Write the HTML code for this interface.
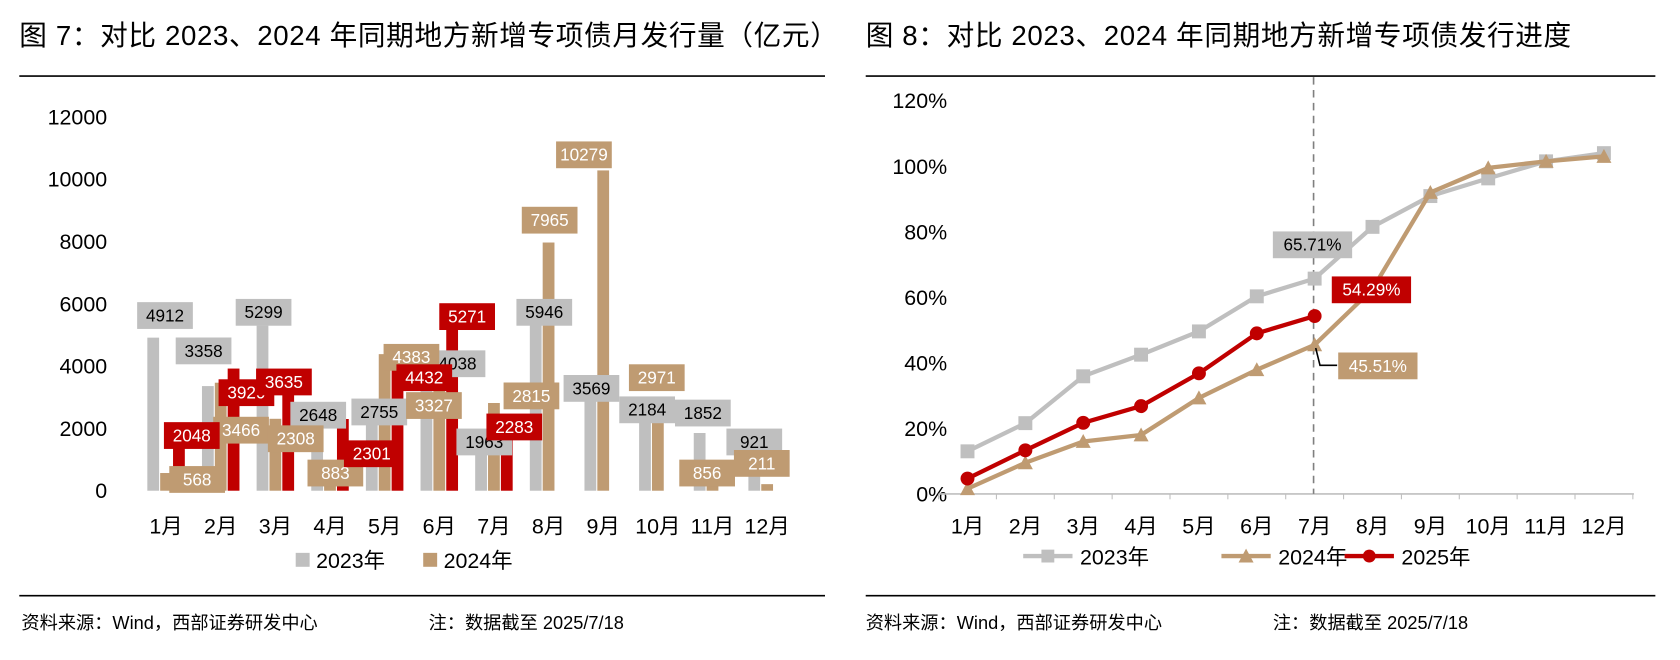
<!DOCTYPE html>
<html><head><meta charset="utf-8"><style>
body{margin:0;background:#fff;width:1680px;height:655px;overflow:hidden;font-family:"Liberation Sans","Noto Sans CJK SC",sans-serif;}
svg text{font-family:"Liberation Sans","Noto Sans CJK SC",sans-serif;}
</style></head><body>
<svg id="s" width="1680" height="655" viewBox="0 0 1568 611.33" xmlns="http://www.w3.org/2000/svg">
<text x="18" y="42" font-size="25.8" letter-spacing="0.6" fill="#000">图 7：对比 2023、2024 年同期地方新增专项债月发行量（亿元）</text>
<text x="808" y="42" font-size="25.8" letter-spacing="0.6" fill="#000">图 8：对比 2023、2024 年同期地方新增专项债发行进度</text>
<line x1="18" y1="71" x2="770" y2="71" stroke="#000" stroke-width="1.5"/>
<line x1="808" y1="71" x2="1545" y2="71" stroke="#000" stroke-width="1.5"/>
<line x1="18" y1="556" x2="770" y2="556" stroke="#000" stroke-width="1.5"/>
<line x1="808" y1="556" x2="1545" y2="556" stroke="#000" stroke-width="1.5"/>
<text x="20" y="587" font-size="17">资料来源：Wind，西部证券研发中心</text>
<text x="400" y="587" font-size="17">注：数据截至 2025/7/18</text>
<text x="808" y="587" font-size="17">资料来源：Wind，西部证券研发中心</text>
<text x="1188" y="587" font-size="17">注：数据截至 2025/7/18</text>
<g id="left"></g><g id="right"></g>
</svg>
<script>
const NS="http://www.w3.org/2000/svg";
function mk(p,t,a){const e=document.createElementNS(NS,t);for(const k in a)e.setAttribute(k,a[k]);p.appendChild(e);return e;}
const months=["1月","2月","3月","4月","5月","6月","7月","8月","9月","10月","11月","12月"];
const bar2023=[4912,3358,5299,2648,2755,4038,1963,5946,3569,2184,1852,921];
const bar2024=[568,3466,2308,883,4383,3327,2815,7965,10279,2971,856,211];
const bar2025=[2048,3920,3635,2301,4432,5271,2283];
const leftTicks=[0,2000,4000,6000,8000,10000,12000];
const lab2023=[[154,294],[190,327],[246,291],[297,387],[354,384],[427,339],[452,412],[508,291],[552,362],[604,382],[656,385],[704,412]];
const lab2024=[[184,447],[225,401],[276,409],[313,441],[384,333],[405,378],[496,369],[513,205],[545,144],[613,352],[660,441],[711,432]];
const lab2025=[[179,406],[230,366],[265,356],[347,423],[396,352],[436,295],[480,398]];
const L=document.getElementById('left');
const ly=v=>458-v*(349/12000);
const cx=i=>155+i*51;
leftTicks.forEach(t=>{const e=mk(L,'text',{x:100,y:ly(t)+7,'font-size':20,'text-anchor':'end'});e.textContent=t;

});
const cols=['#bfbfbf','#bf9b72','#c00000'];
[bar2023,bar2024,bar2025].forEach((arr,s)=>{arr.forEach((v,i)=>{const r=mk(L,'rect',{x:cx(i)-5.5+(s-1)*12,y:ly(v),width:11,height:458-ly(v),fill:cols[s]});

});});
months.forEach((m,i)=>{const e=mk(L,'text',{x:cx(i),y:498,'font-size':20,'text-anchor':'middle'});e.textContent=m;

});
function label(g,x,y,txt,bg,fg,w){const gg=mk(g,'g',{});

mk(gg,'rect',{x:x-w/2,y:y-12,width:w,height:25,fill:bg});const t=mk(gg,'text',{x:x,y:y+6,'font-size':16,'text-anchor':'middle',fill:fg});t.textContent=txt;}
const labFg=['#000','#fff','#fff'];
[[bar2023,lab2023],[bar2024,lab2024],[bar2025,lab2025]].forEach(([arr,pos],s)=>arr.forEach((v,i)=>label(L,pos[i][0],pos[i][1],String(v),cols[s],labFg[s],52)));
[[283,'2023年',0],[402,'2024年',1]].forEach(([x,t,s])=>{const g=mk(L,'g',{});

mk(g,'rect',{x:x-7,y:516,width:13,height:13,fill:cols[s]});const e=mk(g,'text',{x:x+12,y:530,'font-size':20});e.textContent=t;});

const p2023=[13.0,21.6,35.9,42.5,49.6,60.3,65.71,81.5,90.9,96.3,101.5,104];
const p2024=[1.6,9.5,16.0,18.0,29.3,37.9,45.51,62.5,92,99.5,101.5,103];
const p2025=[4.7,13.3,21.7,26.8,36.8,49.0,54.29];
const rightTicks=[0,20,40,60,80,100,120];
const R=document.getElementById('right');
const ry=v=>461-v*(367/120);
const rx=i=>903+i*54;
rightTicks.forEach(t=>{const e=mk(R,'text',{x:884,y:ry(t)+7,'font-size':20,'text-anchor':'end'});e.textContent=t+'%';

});
const ax=mk(R,'line',{x1:876,y1:461,x2:1525,y2:461,stroke:'#bfbfbf','stroke-width':1.5});


for(let i=0;i<=12;i++){mk(R,'line',{x1:876+i*54,y1:461,x2:876+i*54,y2:466,stroke:'#bfbfbf'});}
months.forEach((m,i)=>{const e=mk(R,'text',{x:rx(i),y:498,'font-size':20,'text-anchor':'middle'});e.textContent=m;

});
const dl=mk(R,'line',{x1:1226,y1:72,x2:1226,y2:461,stroke:'#7f7f7f','stroke-width':1.5,'stroke-dasharray':'7,5'});


function series(arr,col,shape,name){const g=mk(R,'g',{});

mk(g,'polyline',{points:arr.map((v,i)=>rx(i)+','+ry(v)).join(' '),fill:'none',stroke:col,'stroke-width':4,'stroke-linejoin':'round'});
arr.forEach((v,i)=>{const x=rx(i),y=ry(v);
if(shape==='sq')mk(g,'rect',{x:x-6.5,y:y-6.5,width:13,height:13,fill:col});
else if(shape==='tri')mk(g,'polygon',{points:`${x},${y-7} ${x-7},${y+6} ${x+7},${y+6}`,fill:col});
else mk(g,'circle',{cx:x,cy:y,r:6.5,fill:col});});}
series(p2023,'#bfbfbf','sq','series-2023');
series(p2024,'#bf9b72','tri','series-2024');
series(p2025,'#c00000','ci','series-2025');
label(R,1225,228,p2023[6].toFixed(2)+'%','#bfbfbf','#000',74);
label(R,1280,270,p2025[6].toFixed(2)+'%','#c00000','#fff',74);
label(R,1286,341,p2024[6].toFixed(2)+'%','#bf9b72','#fff',74);
mk(R,'polyline',{points:`1228,${ry(p2024[6])+3} 1232,341 1248,341`,fill:'none',stroke:'#000','stroke-width':1.5});
[[955,'#bfbfbf','sq','2023年'],[1140,'#bf9b72','tri','2024年'],[1255,'#c00000','ci','2025年']].forEach(([x,c,sh,t])=>{const g=mk(R,'g',{});

mk(g,'line',{x1:x,y1:519,x2:x+46,y2:519,stroke:c,'stroke-width':4});const m=x+23;
if(sh==='sq')mk(g,'rect',{x:m-6,y:513,width:12,height:12,fill:c});else if(sh==='tri')mk(g,'polygon',{points:`${m},512 ${m-7},525 ${m+7},525`,fill:c});else mk(g,'circle',{cx:m,cy:519,r:6,fill:c});
const e=mk(g,'text',{x:x+53,y:527,'font-size':20});e.textContent=t;});
</script>
</body></html>
